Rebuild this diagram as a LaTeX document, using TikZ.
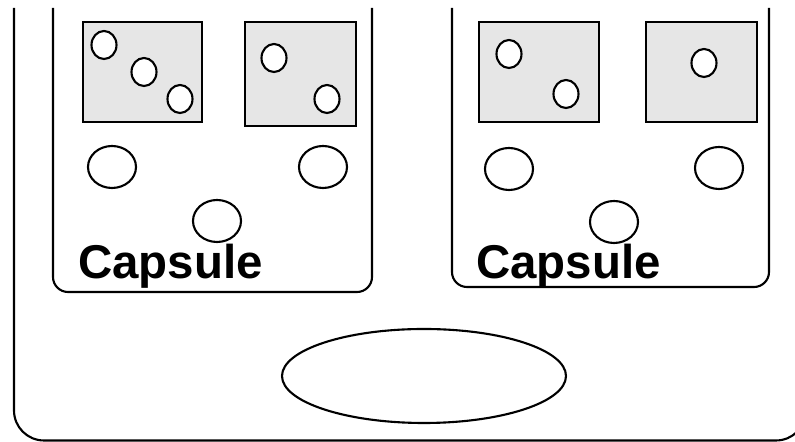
\documentclass[tikz,border=0pt]{standalone}
\usepackage{fontspec}
\setmainfont{Liberation Sans}
\usepackage{tikz}
\definecolor{cloud}{RGB}{230, 230, 230}
\definecolor{ink}{RGB}{0, 0, 0}

\tikzset{
    wall/.style   ={draw=ink, line width=1.2pt, rounded corners},
    grain/.style  ={draw=ink, fill=white, line width=1.2pt},
    vacuole/.style={draw=ink, fill=cloud, line width=1.6pt},
    caption/.style={anchor=base west, inner sep=0pt, font=\fontsize{27}{31}\selectfont\bfseries}
}

\begin{document}
\begin{tikzpicture}
        \clip (0.00, 0.00) rectangle (15.90, 8.84);
            % outer wall and the two capsules
            \draw[wall, rounded corners=0.60cm] ( 0.28, 8.68) -- ( 0.28, 0.03) -- (16.12, 0.03) -- (16.12, 8.68);
            \draw[wall, rounded corners=0.30cm] ( 1.06, 8.68) -- ( 1.06, 3.00) -- ( 7.44, 3.00) -- ( 7.44, 8.68);
            \draw[wall, rounded corners=0.30cm] ( 9.04, 8.68) -- ( 9.04, 3.10) -- (15.38, 3.10) -- (15.38, 8.68);
            % grey boxes
            \filldraw[vacuole] ( 1.66, 8.40) rectangle ( 4.04, 6.40);
            \filldraw[vacuole] ( 4.90, 8.40) rectangle ( 7.12, 6.32);
            \filldraw[vacuole] ( 9.58, 8.40) rectangle (11.98, 6.40);
            \filldraw[vacuole] (12.92, 8.40) rectangle (15.14, 6.40);
            % small grains
            \filldraw[grain]   ( 2.08, 7.94) ellipse   (0.25 and 0.28);
            \filldraw[grain]   ( 2.88, 7.40) ellipse   (0.25 and 0.28);
            \filldraw[grain]   ( 3.60, 6.86) ellipse   (0.25 and 0.28);
            \filldraw[grain]   ( 5.48, 7.68) ellipse   (0.25 and 0.28);
            \filldraw[grain]   ( 6.54, 6.86) ellipse   (0.25 and 0.28);
            \filldraw[grain]   (10.18, 7.76) ellipse   (0.25 and 0.28);
            \filldraw[grain]   (11.32, 6.96) ellipse   (0.25 and 0.28);
            \filldraw[grain]   (14.08, 7.58) ellipse   (0.25 and 0.28);
            % larger grains
            \filldraw[grain]   ( 2.24, 5.50) ellipse   (0.48 and 0.42);
            \filldraw[grain]   ( 6.46, 5.50) ellipse   (0.48 and 0.42);
            \filldraw[grain]   ( 4.34, 4.42) ellipse   (0.48 and 0.42);
            \filldraw[grain]   (10.18, 5.46) ellipse   (0.48 and 0.42);
            \filldraw[grain]   (14.38, 5.48) ellipse   (0.48 and 0.42);
            \filldraw[grain]   (12.28, 4.40) ellipse   (0.48 and 0.42);
            % big one below
            \filldraw[grain]   ( 8.48, 1.32) ellipse   (2.84 and 0.94);
            \node[caption] (capsuleL) at ( 1.56, 3.26) {Capsule};
            \node[caption] (capsuleR) at ( 9.52, 3.26) {Capsule};
        \end{tikzpicture}
\end{document}
